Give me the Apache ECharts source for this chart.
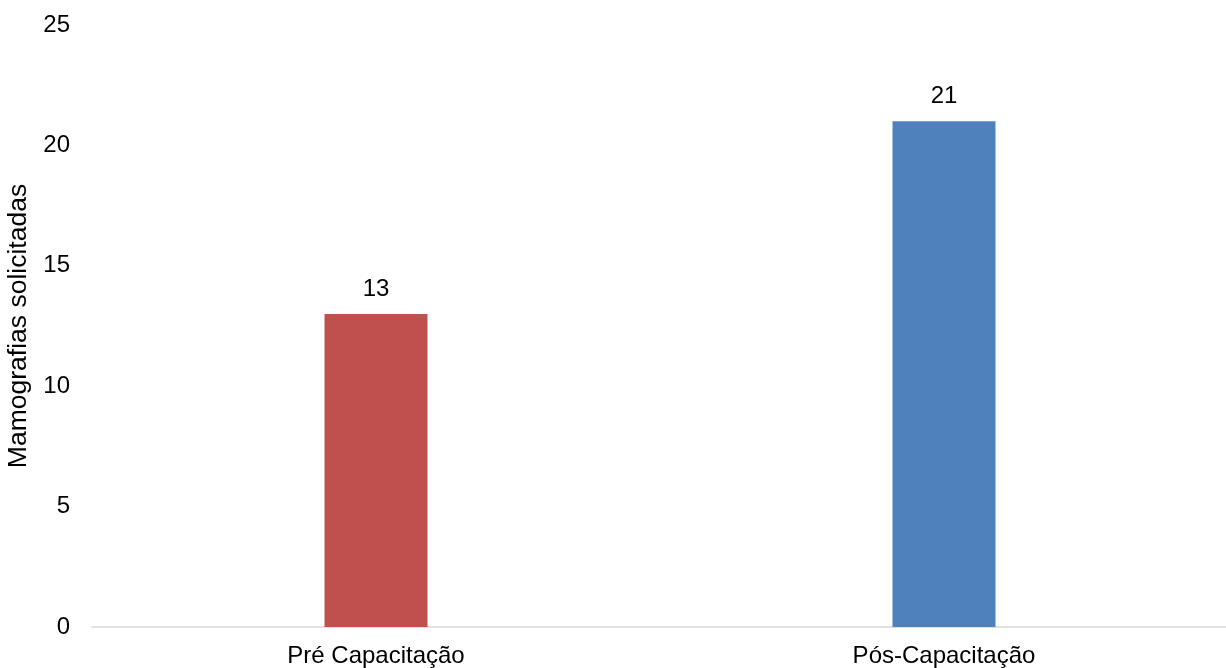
<!DOCTYPE html>
<html>
<head>
<meta charset="utf-8">
<script src="https://cdn.jsdelivr.net/npm/echarts@6/dist/echarts.min.js"></script>
<style>
  html, body { margin: 0; padding: 0; background: #fff; }
  #chart { width: 1226px; height: 668px; }
</style>
</head>
<body>
<div id="chart"></div>
<script>
// dados do gráfico
const categories = ['Pré Capacitação', 'Pós-Capacitação']
const values = [13, 21]
const barColors = ['#C0504D', '#4F81BD']
const yAxisName = 'Mamografias solicitadas'

const chart = echarts.init(document.getElementById('chart'))
const font = 'Liberation Sans, Arial, sans-serif'
const fs = 24

chart.setOption({
  animation: false,
  grid: { left: 92, right: -2, top: 25, bottom: 41, outerBoundsMode: 'none', containLabel: false },
  xAxis: {
    type: 'category',
    data: categories,
    axisLine: { lineStyle: { color: '#D9D9D9', width: 1.5 } },
    axisTick: { show: false },
    axisLabel: { color: '#000', fontSize: fs, fontFamily: font, margin: 17 }
  },
  yAxis: {
    type: 'value',
    min: 0,
    max: 25,
    interval: 5,
    name: yAxisName,
    nameLocation: 'middle',
    nameGap: 58,
    nameTextStyle: { color: '#000', fontSize: 26.5, fontFamily: font },
    splitLine: { show: false },
    axisLine: { show: false },
    axisTick: { show: false },
    axisLabel: { color: '#000', fontSize: fs, fontFamily: font, margin: 22 }
  },
  series: [{
    type: 'bar',
    barWidth: 103,
    data: values.map((v, i) => ({ value: v, itemStyle: { color: barColors[i] } })),
    label: {
      show: true,
      position: 'top',
      distance: 13,
      color: '#000',
      fontSize: fs,
      fontFamily: font
    }
  }]
})
</script>
</body>
</html>
